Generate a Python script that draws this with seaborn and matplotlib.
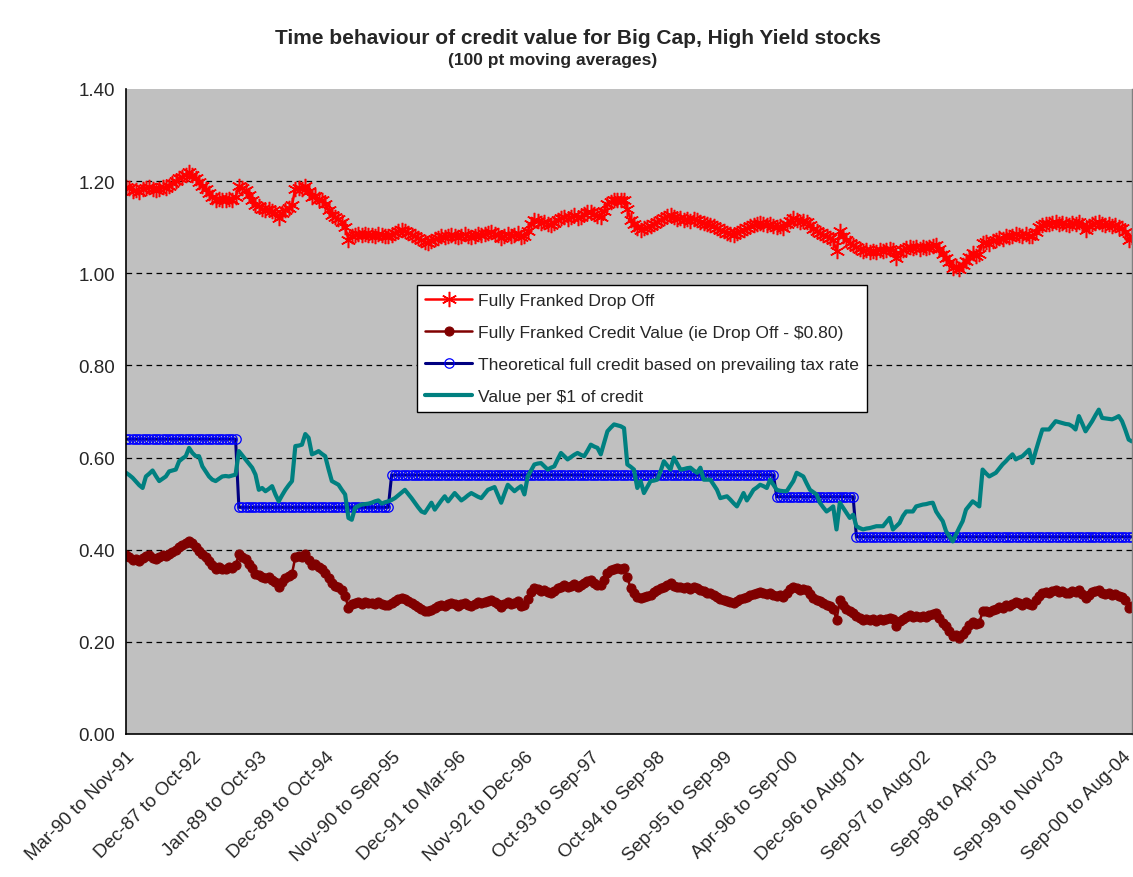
import numpy as np
import matplotlib
matplotlib.use("Agg")
import matplotlib.pyplot as plt
import seaborn as sns

# ------------------------------------------------------------
# Data (one value per category)
# ------------------------------------------------------------
tick_labels = [
    "Mar-90 to Nov-91", "Dec-87 to Oct-92", "Jan-89 to Oct-93", "Dec-89 to Oct-94",
    "Nov-90 to Sep-95", "Dec-91 to Mar-96", "Nov-92 to Dec-96", "Oct-93 to Sep-97",
    "Oct-94 to Sep-98", "Sep-95 to Sep-99", "Apr-96 to Sep-00", "Dec-96 to Aug-01",
    "Sep-97 to Aug-02", "Sep-98 to Apr-03", "Sep-99 to Nov-03", "Sep-00 to Aug-04",
]
label_every = 20

drop_off = [
    1.188, 1.185, 1.178, 1.180, 1.176, 1.182, 1.186, 1.188, 1.183, 1.180,
    1.184, 1.188, 1.186, 1.190, 1.195, 1.200, 1.206, 1.210, 1.214, 1.220,
    1.214, 1.206, 1.198, 1.190, 1.184, 1.175, 1.166, 1.159, 1.162, 1.158,
    1.159, 1.162, 1.160, 1.166, 1.190, 1.185, 1.180, 1.170, 1.160, 1.148,
    1.145, 1.140, 1.138, 1.140, 1.135, 1.130, 1.120, 1.130, 1.138, 1.142,
    1.148, 1.184, 1.186, 1.184, 1.190, 1.178, 1.166, 1.168, 1.162, 1.159,
    1.150, 1.138, 1.127, 1.122, 1.118, 1.112, 1.100, 1.073, 1.082, 1.084,
    1.086, 1.083, 1.086, 1.084, 1.084, 1.082, 1.086, 1.083, 1.080, 1.080,
    1.084, 1.088, 1.092, 1.095, 1.092, 1.088, 1.084, 1.080, 1.076, 1.072,
    1.068, 1.066, 1.070, 1.074, 1.077, 1.080, 1.078, 1.082, 1.084, 1.082,
    1.078, 1.082, 1.085, 1.080, 1.078, 1.082, 1.086, 1.084, 1.086, 1.088,
    1.090, 1.086, 1.083, 1.076, 1.082, 1.086, 1.082, 1.084, 1.088, 1.078,
    1.080, 1.092, 1.108, 1.116, 1.114, 1.110, 1.112, 1.108, 1.105, 1.110,
    1.116, 1.120, 1.123, 1.118, 1.122, 1.126, 1.120, 1.123, 1.128, 1.132,
    1.134, 1.128, 1.124, 1.123, 1.135, 1.150, 1.155, 1.158, 1.160, 1.159,
    1.160, 1.140, 1.116, 1.106, 1.098, 1.095, 1.098, 1.100, 1.102, 1.108,
    1.112, 1.116, 1.120, 1.124, 1.127, 1.122, 1.118, 1.120, 1.116, 1.118,
    1.114, 1.118, 1.116, 1.112, 1.110, 1.106, 1.105, 1.102, 1.098, 1.094,
    1.091, 1.088, 1.086, 1.084, 1.088, 1.092, 1.095, 1.098, 1.102, 1.104,
    1.106, 1.109, 1.106, 1.104, 1.106, 1.102, 1.100, 1.102, 1.098, 1.106,
    1.114, 1.120, 1.116, 1.112, 1.114, 1.112, 1.104, 1.096, 1.091, 1.088,
    1.084, 1.080, 1.077, 1.072, 1.048, 1.091, 1.080, 1.072, 1.066, 1.062,
    1.056, 1.052, 1.048, 1.050, 1.047, 1.049, 1.046, 1.050, 1.048, 1.050,
    1.052, 1.050, 1.034, 1.045, 1.050, 1.055, 1.058, 1.054, 1.057, 1.053,
    1.056, 1.055, 1.058, 1.060, 1.062, 1.052, 1.042, 1.034, 1.024, 1.012,
    1.015, 1.009, 1.018, 1.026, 1.036, 1.044, 1.038, 1.041, 1.066, 1.068,
    1.064, 1.070, 1.072, 1.076, 1.074, 1.080, 1.078, 1.082, 1.086, 1.084,
    1.080, 1.086, 1.082, 1.080, 1.090, 1.100, 1.105, 1.108, 1.106, 1.110,
    1.112, 1.108, 1.110, 1.106, 1.105, 1.110, 1.108, 1.112, 1.104, 1.095,
    1.102, 1.108, 1.110, 1.112, 1.106, 1.104, 1.106, 1.102, 1.104, 1.100,
    1.098, 1.090, 1.073, 1.078,
]

# the legend defines the credit value as drop off less $0.80
credit_value = [round(v - 0.80, 3) for v in drop_off]

# theoretical full credit is a step series: level and number of points at it
theory_levels = [0.640, 0.492, 0.562, 0.515, 0.428]
theory_runs = [34, 46, 116, 24, 84]

value_per_dollar = [
    0.567, 0.562, 0.556, 0.548, 0.540, 0.534, 0.559, 0.565, 0.572, 0.560,
    0.549, 0.554, 0.559, 0.570, 0.572, 0.574, 0.592, 0.598, 0.603, 0.621,
    0.610, 0.603, 0.603, 0.581, 0.570, 0.559, 0.552, 0.549, 0.554, 0.559,
    0.560, 0.559, 0.561, 0.563, 0.614, 0.605, 0.596, 0.587, 0.578, 0.563,
    0.530, 0.534, 0.527, 0.532, 0.538, 0.520, 0.505, 0.518, 0.530, 0.540,
    0.549, 0.625, 0.626, 0.628, 0.651, 0.643, 0.607, 0.610, 0.614, 0.608,
    0.603, 0.575, 0.549, 0.545, 0.541, 0.530, 0.520, 0.469, 0.465, 0.491,
    0.495, 0.498, 0.499, 0.500, 0.502, 0.505, 0.507, 0.500, 0.503, 0.505,
    0.508, 0.512, 0.518, 0.524, 0.530, 0.521, 0.512, 0.502, 0.492, 0.483,
    0.480, 0.491, 0.502, 0.487, 0.497, 0.507, 0.516, 0.505, 0.514, 0.523,
    0.515, 0.507, 0.512, 0.518, 0.523, 0.519, 0.515, 0.512, 0.521, 0.530,
    0.533, 0.536, 0.519, 0.502, 0.522, 0.541, 0.534, 0.527, 0.533, 0.538,
    0.520, 0.559, 0.572, 0.585, 0.587, 0.588, 0.581, 0.574, 0.578, 0.581,
    0.596, 0.610, 0.603, 0.596, 0.601, 0.606, 0.610, 0.606, 0.603, 0.615,
    0.628, 0.624, 0.621, 0.607, 0.632, 0.657, 0.665, 0.672, 0.670, 0.668,
    0.664, 0.585, 0.580, 0.574, 0.534, 0.549, 0.523, 0.536, 0.549, 0.550,
    0.552, 0.570, 0.592, 0.583, 0.574, 0.600, 0.587, 0.574, 0.575, 0.577,
    0.578, 0.572, 0.567, 0.578, 0.552, 0.552, 0.552, 0.541, 0.530, 0.512,
    0.514, 0.516, 0.509, 0.501, 0.494, 0.508, 0.523, 0.507, 0.518, 0.530,
    0.535, 0.541, 0.538, 0.534, 0.552, 0.541, 0.530, 0.528, 0.527, 0.527,
    0.538, 0.549, 0.567, 0.563, 0.559, 0.544, 0.530, 0.525, 0.520, 0.502,
    0.492, 0.483, 0.488, 0.494, 0.444, 0.502, 0.491, 0.480, 0.469, 0.476,
    0.451, 0.447, 0.444, 0.446, 0.447, 0.449, 0.451, 0.451, 0.451, 0.460,
    0.469, 0.444, 0.451, 0.458, 0.473, 0.483, 0.483, 0.483, 0.494, 0.496,
    0.498, 0.499, 0.501, 0.502, 0.483, 0.472, 0.462, 0.440, 0.429, 0.418,
    0.433, 0.448, 0.462, 0.487, 0.496, 0.505, 0.500, 0.494, 0.574, 0.566,
    0.559, 0.563, 0.567, 0.576, 0.585, 0.592, 0.600, 0.607, 0.596, 0.600,
    0.603, 0.610, 0.617, 0.588, 0.614, 0.638, 0.661, 0.661, 0.661, 0.670,
    0.679, 0.677, 0.675, 0.673, 0.672, 0.668, 0.661, 0.690, 0.674, 0.657,
    0.668, 0.679, 0.692, 0.704, 0.686, 0.685, 0.684, 0.683, 0.686, 0.690,
    0.679, 0.660, 0.639, 0.635,
]

theoretical = np.repeat(theory_levels, theory_runs)
idx = np.arange(len(drop_off))

# ------------------------------------------------------------
# Style
# ------------------------------------------------------------
sns.set_style("white")
plt.rcParams["font.family"] = ["Liberation Sans", "DejaVu Sans"]

fig = plt.figure(figsize=(11.33, 8.78), dpi=100)
ax = fig.add_axes([126 / 1133, 1 - 735 / 878, 1006 / 1133, 645 / 878])
ax.set_facecolor("#C0C0C0")

# Excel-style star: an asterisk with a vertical arm
star = (6, 2, 0)

sns.lineplot(x=idx, y=drop_off, ax=ax, color="#FF0000", linewidth=1.8,
             marker=star, markersize=11, markeredgewidth=1.1,
             markeredgecolor="#FF0000", label="Fully Franked Drop Off")
sns.lineplot(x=idx, y=credit_value, ax=ax, color="#800000", linewidth=1.8,
             marker="o", markersize=6.5, markeredgewidth=0.8,
             markeredgecolor="#800000", markerfacecolor="#800000",
             label="Fully Franked Credit Value (ie Drop Off - $0.80)")
sns.lineplot(x=idx, y=theoretical, ax=ax, color="#000080", linewidth=2.2,
             marker="o", markersize=6.8, markeredgewidth=0.9,
             markeredgecolor="#0000FF", markerfacecolor="none",
             label="Theoretical full credit based on prevailing tax rate")
sns.lineplot(x=idx, y=value_per_dollar, ax=ax, color="#008080", linewidth=3.0,
             label="Value per $1 of credit")

# ------------------------------------------------------------
# Axes
# ------------------------------------------------------------
ax.set_xlim(0, len(drop_off) - 1)
ax.set_ylim(0, 1.4)
ax.set_yticks(np.arange(0, 1.41, 0.2))
ax.set_yticklabels([f"{v:.2f}" for v in np.arange(0, 1.41, 0.2)], fontsize=13.5)
ax.set_xticks(np.arange(0, len(tick_labels) * label_every, label_every))
ax.set_xticklabels(tick_labels, rotation=45, ha="right",
                   rotation_mode="anchor", fontsize=13.5)
ax.tick_params(axis="both", direction="out", length=5, width=1,
               color="black", pad=3)
ax.tick_params(axis="x", pad=5)
ax.set_xlabel("")
ax.set_ylabel("")

for y in np.arange(0.2, 1.21, 0.2):
    ax.axhline(y, color="black", linewidth=0.9, linestyle=(0, (4.5, 3.5)),
               zorder=1)

for side in ["left", "bottom"]:
    ax.spines[side].set_color("black")
    ax.spines[side].set_linewidth(1.2)
ax.spines["top"].set_visible(False)
ax.spines["right"].set_color("#808080")
ax.spines["right"].set_linewidth(1.0)

# ------------------------------------------------------------
# Title and legend
# ------------------------------------------------------------
fig.text(578 / 1133, 1 - 39 / 878,
         "Time behaviour of credit value for Big Cap, High Yield stocks",
         ha="center", va="center", fontsize=15, fontweight="bold")
fig.text(553 / 1133, 1 - 61 / 878, "(100 pt moving averages)",
         ha="center", va="center", fontsize=12.5, fontweight="bold")

leg = ax.legend(loc="upper left", bbox_to_anchor=(417 / 1133, 1 - 286 / 878),
                bbox_transform=fig.transFigure, fontsize=12.6, frameon=True,
                fancybox=False, framealpha=1, edgecolor="black",
                handlelength=2.7, labelspacing=0.95, borderpad=0.45,
                handletextpad=0.35, borderaxespad=0)
leg.get_frame().set_linewidth(1.0)

fig.savefig("out.png", dpi=100)
